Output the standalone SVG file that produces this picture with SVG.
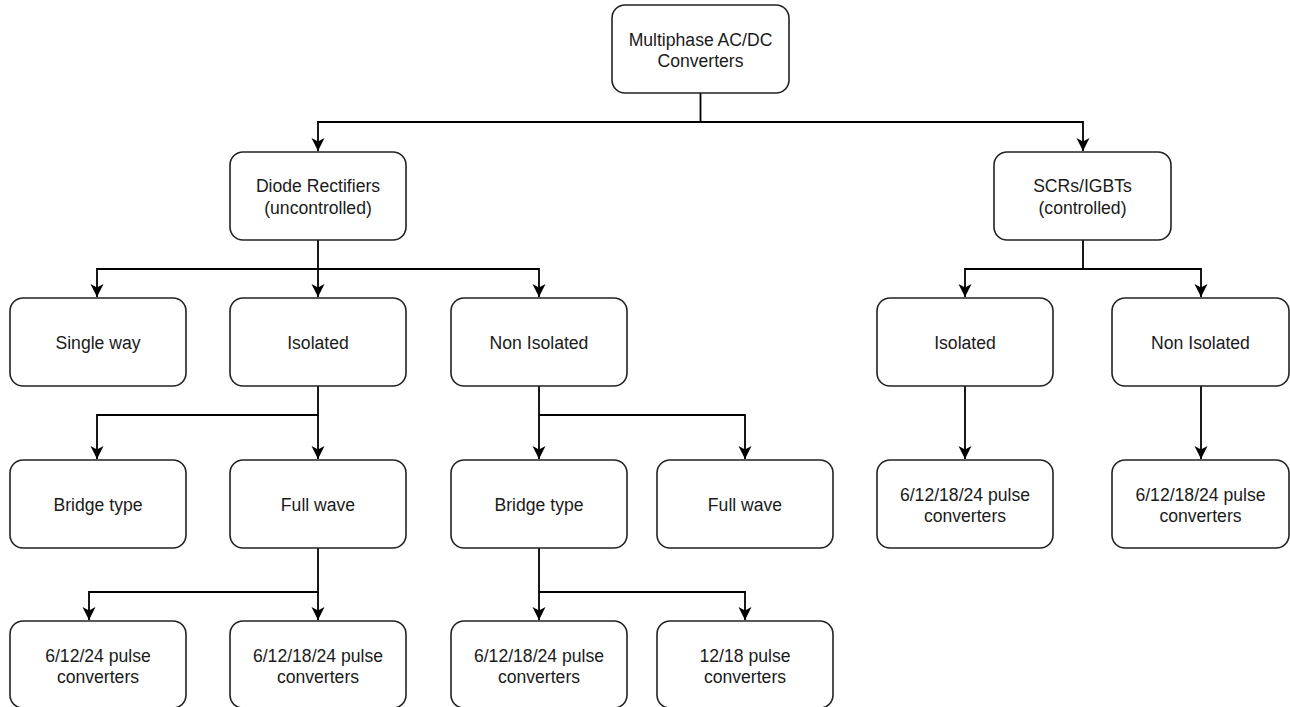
<svg xmlns="http://www.w3.org/2000/svg" width="1290" height="707" viewBox="0 0 1290 707">
<defs>
<style>
.box{fill:#fff;stroke:#222;stroke-width:1.6}
.t{font-family:"Liberation Sans",Arial,sans-serif;font-size:17.6px;fill:#1a1a1a;text-anchor:middle}
.c{fill:none;stroke:#000;stroke-width:1.8}
</style>
<marker id="ah" markerUnits="userSpaceOnUse" markerWidth="14" markerHeight="14" refX="13" refY="6.5" orient="auto" viewBox="0 0 14 13">
<path d="M0,0 L13,6.5 L0,13 L3.5,6.5 z" fill="#000"/>
</marker>
</defs>
<rect width="1290" height="707" fill="#fff"/>
<g id="connectors">
<path class="c" d="M700.5,93 V122 H318 V151" marker-end="url(#ah)"/>
<path class="c" d="M700.5,122 H1083 V151" marker-end="url(#ah)"/>
<path class="c" d="M318,240 V269 H97 V297" marker-end="url(#ah)"/>
<path class="c" d="M318,269 V297" marker-end="url(#ah)"/>
<path class="c" d="M318,269 H539 V297" marker-end="url(#ah)"/>
<path class="c" d="M1083,240 V269 H965 V297" marker-end="url(#ah)"/>
<path class="c" d="M1083,269 H1201 V297" marker-end="url(#ah)"/>
<path class="c" d="M318,386 V415 H97 V459" marker-end="url(#ah)"/>
<path class="c" d="M318,415 V459" marker-end="url(#ah)"/>
<path class="c" d="M539,386 V459" marker-end="url(#ah)"/>
<path class="c" d="M539,415 H745 V459" marker-end="url(#ah)"/>
<path class="c" d="M965,386 V459" marker-end="url(#ah)"/>
<path class="c" d="M1201,386 V459" marker-end="url(#ah)"/>
<path class="c" d="M318,548 V592 H89 V620" marker-end="url(#ah)"/>
<path class="c" d="M318,592 V620" marker-end="url(#ah)"/>
<path class="c" d="M539,548 V620" marker-end="url(#ah)"/>
<path class="c" d="M539,592 H745 V620" marker-end="url(#ah)"/>
</g>
<g id="root"><rect class="box" x="612" y="5" width="177" height="88" rx="13"/><text class="t" x="700.5" y="46">Multiphase AC/DC</text><text class="t" x="700.5" y="67">Converters</text></g>
<g id="diode"><rect class="box" x="230" y="152" width="176" height="88" rx="13"/><text class="t" x="318" y="192">Diode Rectifiers</text><text class="t" x="318" y="214">(uncontrolled)</text></g>
<g id="scr"><rect class="box" x="994" y="152" width="177" height="88" rx="13"/><text class="t" x="1082.5" y="192">SCRs/IGBTs</text><text class="t" x="1082.5" y="214">(controlled)</text></g>
<g id="single"><rect class="box" x="10" y="298" width="176" height="88" rx="13"/><text class="t" x="98" y="349">Single way</text></g>
<g id="iso1"><rect class="box" x="230" y="298" width="176" height="88" rx="13"/><text class="t" x="318" y="349">Isolated</text></g>
<g id="noniso1"><rect class="box" x="451" y="298" width="176" height="88" rx="13"/><text class="t" x="539" y="349">Non Isolated</text></g>
<g id="iso2"><rect class="box" x="877" y="298" width="176" height="88" rx="13"/><text class="t" x="965" y="349">Isolated</text></g>
<g id="noniso2"><rect class="box" x="1112" y="298" width="177" height="88" rx="13"/><text class="t" x="1200.5" y="349">Non Isolated</text></g>
<g id="bridge1"><rect class="box" x="10" y="460" width="176" height="88" rx="13"/><text class="t" x="98" y="511">Bridge type</text></g>
<g id="full1"><rect class="box" x="230" y="460" width="176" height="88" rx="13"/><text class="t" x="318" y="511">Full wave</text></g>
<g id="bridge2"><rect class="box" x="451" y="460" width="176" height="88" rx="13"/><text class="t" x="539" y="511">Bridge type</text></g>
<g id="full2"><rect class="box" x="657" y="460" width="176" height="88" rx="13"/><text class="t" x="745" y="511">Full wave</text></g>
<g id="pulse5"><rect class="box" x="877" y="460" width="176" height="88" rx="13"/><text class="t" x="965" y="501">6/12/18/24 pulse</text><text class="t" x="965" y="522">converters</text></g>
<g id="pulse6"><rect class="box" x="1112" y="460" width="177" height="88" rx="13"/><text class="t" x="1200.5" y="501">6/12/18/24 pulse</text><text class="t" x="1200.5" y="522">converters</text></g>
<g id="pulse1"><rect class="box" x="10" y="621" width="176" height="87" rx="13"/><text class="t" x="98" y="662">6/12/24 pulse</text><text class="t" x="98" y="683">converters</text></g>
<g id="pulse2"><rect class="box" x="230" y="621" width="176" height="87" rx="13"/><text class="t" x="318" y="662">6/12/18/24 pulse</text><text class="t" x="318" y="683">converters</text></g>
<g id="pulse3"><rect class="box" x="451" y="621" width="176" height="87" rx="13"/><text class="t" x="539" y="662">6/12/18/24 pulse</text><text class="t" x="539" y="683">converters</text></g>
<g id="pulse4"><rect class="box" x="657" y="621" width="176" height="87" rx="13"/><text class="t" x="745" y="662">12/18 pulse</text><text class="t" x="745" y="683">converters</text></g>
</svg>
